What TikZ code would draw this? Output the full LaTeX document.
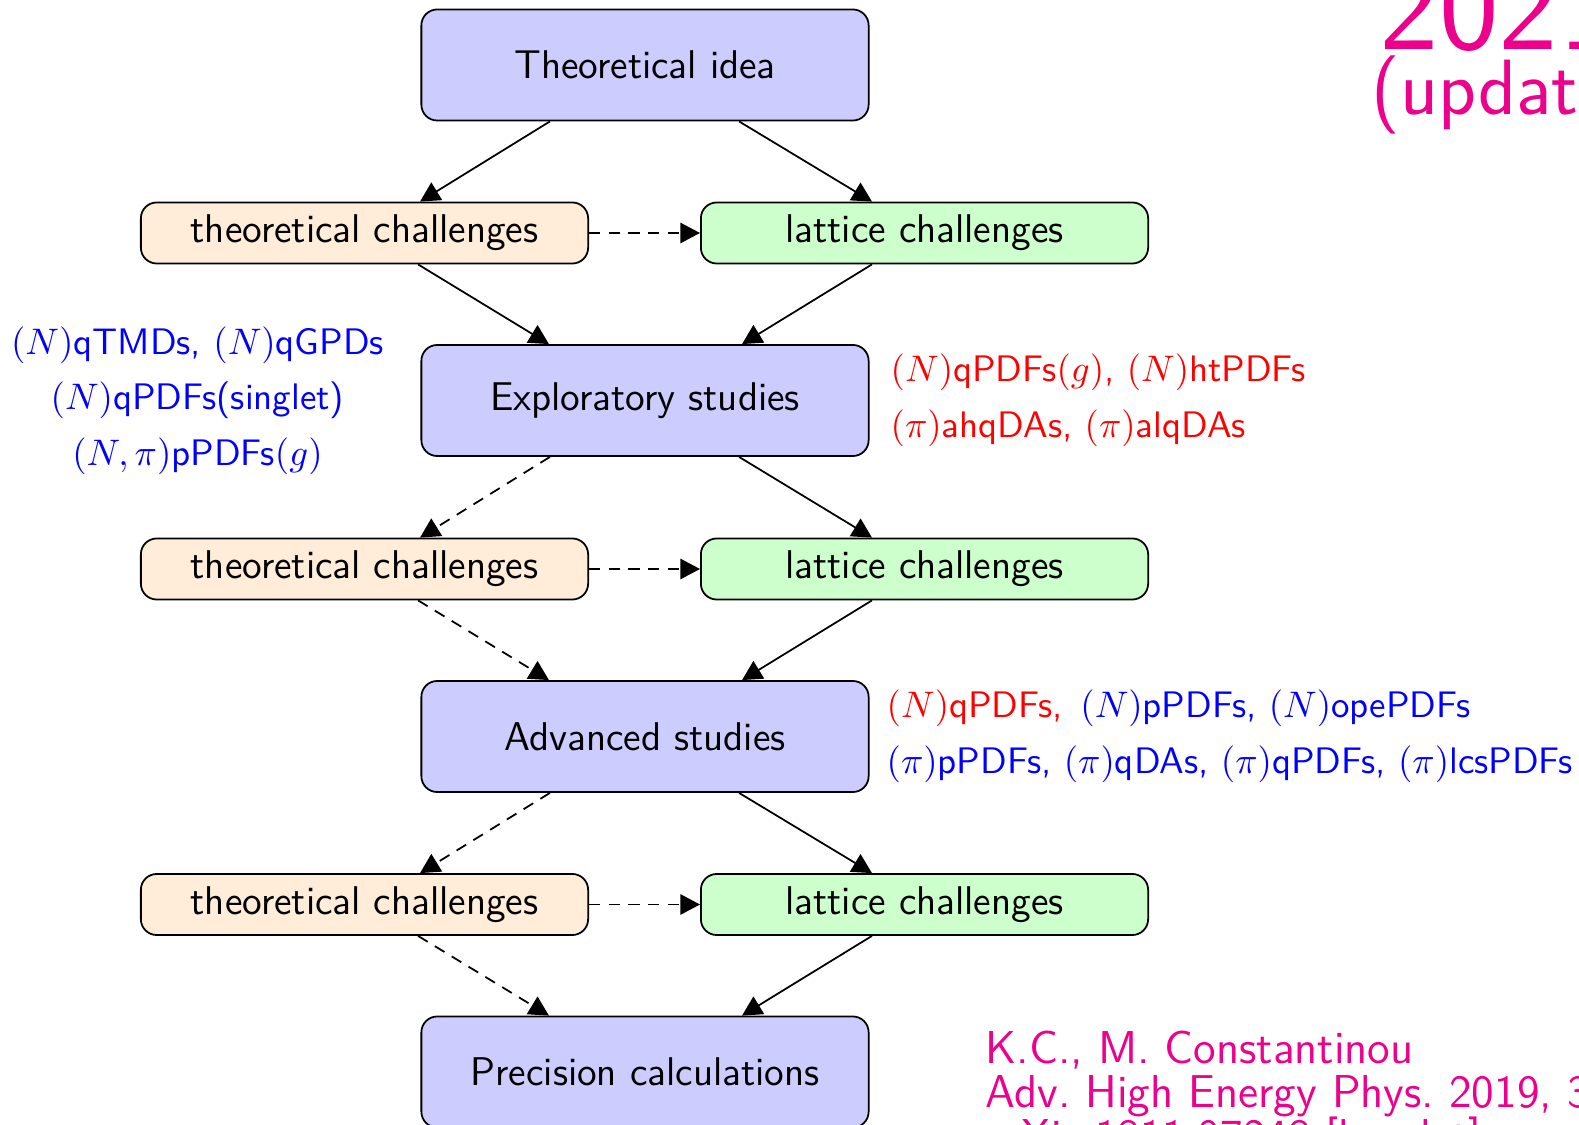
\RequirePackage{fix-cm}
\documentclass[tikz,border=0pt]{standalone}
\usepackage{fontspec}
\usetikzlibrary{arrows.meta}
\definecolor{pinkish}{RGB}{236,0,140}
\begin{document}
\begin{tikzpicture}[x=0.01cm,y=-0.01cm,
  boxbase/.style={draw,line width=0.5pt,rounded corners=4.5pt,inner sep=0pt,minimum width=4.47cm,
    font=\sffamily\fontsize{11.4}{13.5}\selectfont},
  bigbox/.style={boxbase,fill=blue!20,minimum height=1.11cm},
  tbox/.style={boxbase,fill=orange!15,minimum height=0.61cm},
  lbox/.style={boxbase,fill=green!20,minimum height=0.61cm},
  arr/.style={line width=0.5pt,-{Triangle[length=5.6pt,width=5.8pt]}},
  darr/.style={arr,dash pattern=on 3.2pt off 2.4pt},
  side/.style={inner sep=0pt,font=\sffamily\fontsize{10.5}{12.5}\selectfont},
  reftext/.style={inner sep=0pt,text=pinkish,anchor=base west,font=\sffamily\fontsize{13.1}{15}\selectfont\frenchspacing},
  ]
\useasboundingbox (0,0) rectangle (1579,1125);
\clip (0,0) rectangle (1579,1125);

% main boxes
\node[bigbox] (idea) at (645,65) {Theoretical idea};
\node[tbox] (tc1) at (364.5,233) {theoretical challenges};
\node[lbox] (lc1) at (924.5,233) {lattice challenges};
\node[bigbox] (expl) at (645,400.5) {Exploratory studies};
\node[tbox] (tc2) at (364.5,569) {theoretical challenges};
\node[lbox] (lc2) at (924.5,569) {lattice challenges};
\node[bigbox] (adv) at (645,736.5) {Advanced studies};
\node[tbox] (tc3) at (364.5,904.5) {theoretical challenges};
\node[lbox] (lc3) at (924.5,904.5) {lattice challenges};
\node[bigbox] (prec) at (645,1072) {Precision calculations};

% arrows
\draw[arr] ([xshift=-0.95cm]idea.south) -- ([xshift=0.555cm]tc1.north);
\draw[arr] ([xshift=0.94cm]idea.south) -- ([xshift=-0.525cm]lc1.north);
\draw[darr] (tc1.east) -- (lc1.west);
\draw[arr] ([xshift=0.535cm]tc1.south) -- ([xshift=-0.96cm]expl.north);
\draw[arr] ([xshift=-0.525cm]lc1.south) -- ([xshift=0.97cm]expl.north);

\draw[darr] ([xshift=-0.95cm]expl.south) -- ([xshift=0.555cm]tc2.north);
\draw[arr] ([xshift=0.94cm]expl.south) -- ([xshift=-0.525cm]lc2.north);
\draw[darr] (tc2.east) -- (lc2.west);
\draw[darr] ([xshift=0.535cm]tc2.south) -- ([xshift=-0.96cm]adv.north);
\draw[arr] ([xshift=-0.525cm]lc2.south) -- ([xshift=0.97cm]adv.north);

\draw[darr] ([xshift=-0.95cm]adv.south) -- ([xshift=0.555cm]tc3.north);
\draw[arr] ([xshift=0.94cm]adv.south) -- ([xshift=-0.525cm]lc3.north);
\draw[darr] (tc3.east) -- (lc3.west);
\draw[darr] ([xshift=0.535cm]tc3.south) -- ([xshift=-0.96cm]prec.north);
\draw[arr] ([xshift=-0.525cm]lc3.south) -- ([xshift=0.97cm]prec.north);

% side notes
\node[side,text=blue,anchor=base] (l1) at (197.5,355) {$(N)$qTMDs, $(N)$qGPDs};
\node[side,text=blue,anchor=base] (l2) at (197.5,410) {$(N)$qPDFs(singlet)};
\node[side,text=blue,anchor=base] (l3) at (197.5,466) {$(N,\pi)$pPDFs$(g)$};

\node[side,text=red,anchor=base west] (r1) at (890,382) {$(N)$qPDFs$(g)$, $(N)$htPDFs};
\node[side,text=red,anchor=base west] (r2) at (890,438) {$(\pi)$ahqDAs, $(\pi)$alqDAs};

\node[side,anchor=base west] (a1) at (886,718) {\textcolor{red}{$(N)$qPDFs,}\hspace{1.5pt} \textcolor{blue}{$(N)$pPDFs, $(N)$opePDFs}};
\node[side,text=blue,anchor=base west] (a2) at (886,773) {$(\pi)$pPDFs, $(\pi)$qDAs, $(\pi)$qPDFs, $(\pi)$lcsPDFs};

% reference
\node[reftext] (ref1) at (985,1063) {K.C., M. Constantinou};
\node[reftext] (ref2) at (985,1107) {Adv. High Energy Phys. 2019, 3036904};
\node[reftext] (ref3) at (985,1151) {arXiv:1811.07248 [hep-lat]};

% year
\node[inner sep=0pt,text=pinkish,anchor=base west,font=\sffamily\fontsize{36}{40}\selectfont] (yr) at (1379,50) {2021};
\node[inner sep=0pt,text=pinkish,anchor=base west,font=\sffamily\fontsize{22.3}{26}\selectfont] (upd) at (1371,115) {(updated)};
\end{tikzpicture}
\end{document}
